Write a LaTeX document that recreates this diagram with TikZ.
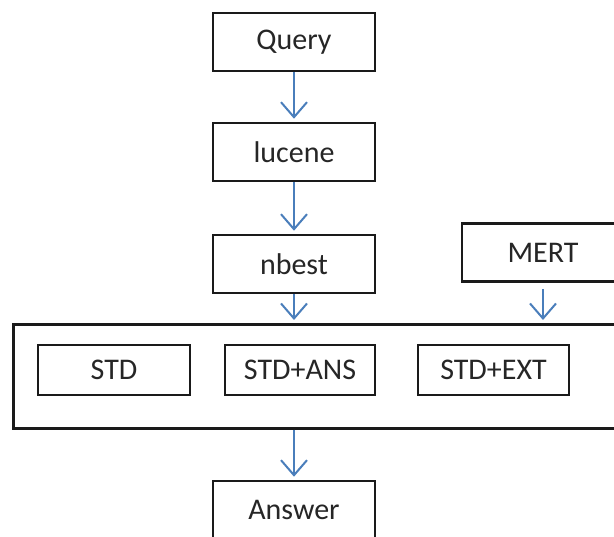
\documentclass[tikz,border=0pt]{standalone}
\usepackage{fontspec}
\setmainfont{Carlito}
\usetikzlibrary{arrows.meta}
\definecolor{arrowblue}{HTML}{4A7EBB}
\definecolor{boxline}{HTML}{1A1A1A}
\definecolor{txt}{HTML}{262626}
\tikzset{
  box/.style={draw=boxline, line width=2.6pt, fill=white, inner sep=0pt,
    minimum width=#1, minimum height=58pt, text=txt,
    font=\fontsize{30}{36}\selectfont},
  box/.default=162pt,
  ibox/.style={draw=boxline, line width=2.6pt, fill=white, inner sep=0pt,
    minimum width=#1, minimum height=50pt, text=txt,
    font=\fontsize{30}{36}\selectfont},
  flow/.style={draw=arrowblue, line width=2pt,
    -{Straight Barb[length=15pt,width=26pt,line width=2pt]}, shorten >=3pt}
}
\begin{document}
\begin{tikzpicture}[x=1pt,y=-1pt]
\useasboundingbox (0,0) rectangle (614,537);
\clip (0,0) rectangle (614,537);
\node[box] (query) at (294,42) {Query};
\node[box] (lucene) at (294,152) {lucene};
\node[box] (nbest) at (294,264) {nbest};
\node[box] (mert) at (543,252.5) {MERT};
\node[draw=boxline, line width=2.6pt, minimum width=640pt, minimum height=104pt,
  inner sep=0pt, anchor=north west] (group) at (12,323) {};
\node[ibox=152pt] (std) at (114,370) {STD};
\node[ibox=150pt] (stdans) at (300,370) {STD+ANS};
\node[ibox=151pt] (stdext) at (493.5,370) {STD+EXT};
\node[box] (answer) at (294,510) {Answer};
\draw[flow] (query) -- (lucene);
\draw[flow] (lucene) -- (nbest);
\draw[flow] (nbest.south) -- (nbest.south |- group.north);
\draw[flow, shorten <=6pt] (mert.south) -- (mert.south |- group.north);
\draw[flow] (group.south -| answer.north) -- (answer.north);
\end{tikzpicture}
\end{document}
